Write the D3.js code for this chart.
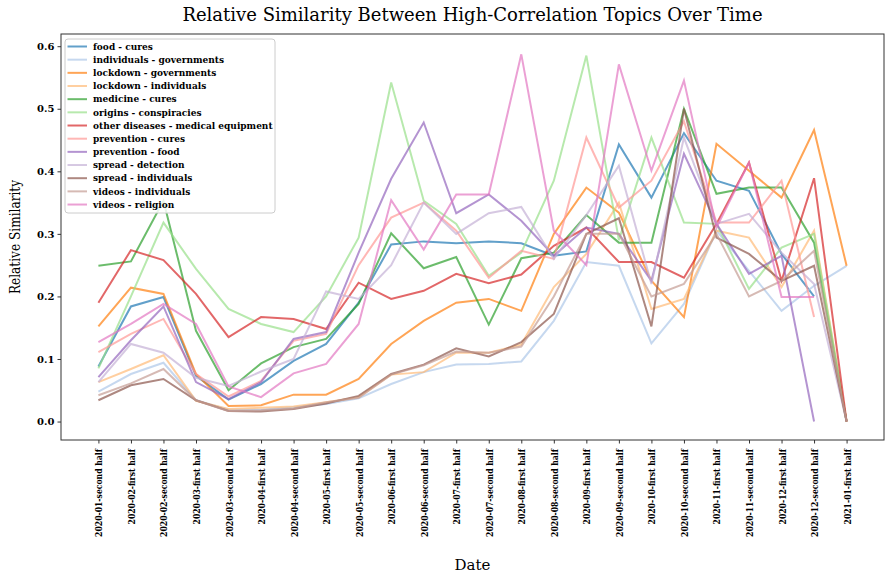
<!DOCTYPE html>
<html>
<head>
<meta charset="utf-8">
<script src="https://cdn.jsdelivr.net/npm/d3@7"></script>
<style>
  html, body { margin: 0; padding: 0; background: #fff; }
  svg { display: block; }
  text { font-family: "DejaVu Serif", serif; }
</style>
</head>
<body>
<svg id="chart" width="887" height="573"></svg>
<script>
// Half-month periods on the x axis
const periods = [
  "2020-01-second half", "2020-02-first half", "2020-02-second half", "2020-03-first half",
  "2020-03-second half", "2020-04-first half", "2020-04-second half", "2020-05-first half",
  "2020-05-second half", "2020-06-first half", "2020-06-second half", "2020-07-first half",
  "2020-07-second half", "2020-08-first half", "2020-08-second half", "2020-09-first half",
  "2020-09-second half", "2020-10-first half", "2020-10-second half", "2020-11-first half",
  "2020-11-second half", "2020-12-first half", "2020-12-second half", "2021-01-first half"
];

const topicPairs = [
  "food - cures", "individuals - governments", "lockdown - governments", "lockdown - individuals",
  "medicine - cures", "origins - conspiracies", "other diseases - medical equipment",
  "prevention - cures", "prevention - food", "spread - detection", "spread - individuals",
  "videos - individuals", "videos - religion"
];

const pairColors = [
  "#1f77b4", "#aec7e8", "#ff7f0e", "#ffbb78", "#2ca02c", "#98df8a", "#d62728",
  "#ff9896", "#9467bd", "#c5b0d5", "#8c564b", "#c49c94", "#e377c2"
];

// Relative similarity per period (null = no value for that period)
const foodCures = [0.088, 0.184, 0.199, 0.073, 0.035, 0.060, 0.097, 0.124, 0.190, 0.283, 0.288, 0.285, 0.288, 0.285, 0.265, 0.272, 0.443, 0.358, 0.461, 0.385, 0.369, 0.268, 0.200, null];
const individualsGovernments = [0.048, 0.076, 0.094, 0.034, 0.019, 0.019, 0.023, 0.028, 0.037, 0.060, 0.079, 0.091, 0.092, 0.096, 0.161, 0.255, 0.249, 0.125, 0.188, 0.305, 0.241, 0.177, 0.217, 0.249];
const lockdownGovernments = [0.152, 0.214, 0.204, 0.076, 0.025, 0.026, 0.043, 0.043, 0.068, 0.124, 0.161, 0.190, 0.196, 0.177, 0.300, 0.374, 0.334, 0.225, 0.167, 0.444, 0.401, 0.358, 0.466, 0.249];
const lockdownIndividuals = [0.063, 0.084, 0.106, 0.033, 0.020, 0.022, 0.024, 0.031, 0.039, 0.075, 0.079, 0.110, 0.110, 0.123, 0.215, 0.268, 0.350, 0.180, 0.196, 0.305, 0.294, 0.215, 0.305, 0.000];
const medicineCures = [0.249, 0.256, 0.353, 0.145, 0.050, 0.093, 0.119, 0.132, 0.188, 0.301, 0.245, 0.263, 0.155, 0.261, 0.270, 0.330, 0.286, 0.286, 0.500, 0.364, 0.374, 0.374, 0.286, 0.000];
const originsConspiracies = [0.085, 0.200, 0.318, 0.244, 0.180, 0.156, 0.143, 0.200, 0.294, 0.542, 0.353, 0.316, 0.233, 0.270, 0.385, 0.585, 0.290, 0.454, 0.318, 0.316, 0.212, 0.278, 0.300, 0.000];
const otherDiseasesEquipment = [0.190, 0.274, 0.258, 0.204, 0.135, 0.167, 0.164, 0.148, 0.222, 0.196, 0.209, 0.236, 0.221, 0.235, 0.281, 0.310, 0.255, 0.255, 0.230, 0.316, 0.414, 0.225, 0.389, 0.000];
const preventionCures = [0.111, 0.140, 0.164, 0.076, 0.040, 0.065, 0.129, 0.140, 0.250, 0.326, 0.350, 0.305, 0.230, 0.273, 0.260, 0.454, 0.342, 0.385, 0.480, 0.318, 0.318, 0.385, 0.167, null];
const preventionFood = [0.071, 0.130, 0.184, 0.063, 0.036, 0.063, 0.132, 0.143, 0.270, 0.388, 0.478, 0.333, 0.363, 0.321, 0.265, 0.310, 0.300, 0.225, 0.428, 0.316, 0.236, 0.265, 0.000, null];
const spreadDetection = [0.063, 0.124, 0.110, 0.070, 0.057, 0.080, 0.100, 0.208, 0.196, 0.250, 0.350, 0.300, 0.333, 0.343, 0.260, 0.330, 0.409, 0.220, 0.454, 0.316, 0.332, 0.270, 0.220, 0.000];
const spreadIndividuals = [0.034, 0.058, 0.068, 0.034, 0.017, 0.016, 0.020, 0.029, 0.041, 0.076, 0.091, 0.117, 0.104, 0.127, 0.172, 0.300, 0.325, 0.152, 0.500, 0.294, 0.268, 0.225, 0.249, 0.000];
const videosIndividuals = [0.042, 0.061, 0.084, 0.034, 0.017, 0.018, 0.021, 0.031, 0.038, 0.075, 0.090, 0.112, 0.110, 0.120, 0.200, 0.300, 0.300, 0.200, 0.220, 0.300, 0.200, 0.225, 0.273, 0.000];
const videosReligion = [0.127, 0.156, 0.188, 0.156, 0.056, 0.039, 0.077, 0.092, 0.156, 0.354, 0.275, 0.363, 0.363, 0.587, 0.305, 0.250, 0.571, 0.401, 0.545, 0.310, 0.414, 0.199, 0.199, null];

const yTicks = [0.0, 0.1, 0.2, 0.3, 0.4, 0.5, 0.6];

const seriesValues = [
  foodCures, individualsGovernments, lockdownGovernments, lockdownIndividuals,
  medicineCures, originsConspiracies, otherDiseasesEquipment, preventionCures,
  preventionFood, spreadDetection, spreadIndividuals, videosIndividuals, videosReligion
];
const series = topicPairs.map((name, k) => ({ name, color: pairColors[k], values: seriesValues[k] }));

const width = 887, height = 573;
const margin = { top: 34, right: 3, bottom: 133, left: 61 };
const svg = d3.select("#chart");

// The figure is vertically squeezed, so upright (rotated) text is compressed along its length
const squeeze = 0.77;

const x = d3.scaleLinear()
  .domain([-1.15, periods.length - 1 + 1.15])
  .range([margin.left, width - margin.right]);
const y = d3.scaleLinear()
  .domain([-0.0295, 0.6195])
  .range([height - margin.bottom, margin.top]);

// Lines
const line = d3.line()
  .defined(d => d != null)
  .x((d, i) => x(i))
  .y(d => y(d));

svg.append("g")
  .selectAll("path")
  .data(series)
  .join("path")
  .attr("fill", "none")
  .attr("stroke", d => d.color)
  .attr("stroke-opacity", 0.7)
  .attr("stroke-width", 2)
  .attr("stroke-linejoin", "miter")
  .attr("d", d => line(d.values));

// Frame
svg.append("rect")
  .attr("x", margin.left).attr("y", margin.top)
  .attr("width", width - margin.left - margin.right)
  .attr("height", height - margin.top - margin.bottom)
  .attr("fill", "none").attr("stroke", "#333").attr("stroke-width", 1);

// Y axis
const yAxis = svg.append("g")
  .attr("transform", `translate(${margin.left},0)`)
  .call(d3.axisLeft(y).tickValues(yTicks).tickFormat(d3.format(".1f")).tickSize(3.5).tickPadding(3));
yAxis.select(".domain").remove();
yAxis.selectAll("line").attr("stroke", "#333");
yAxis.selectAll("text")
  .attr("font-family", "DejaVu Serif").attr("font-weight", "bold")
  .attr("font-size", 10).attr("fill", "#000");

// X axis with upright period labels
const xAxis = svg.append("g")
  .attr("transform", `translate(0,${height - margin.bottom})`)
  .call(d3.axisBottom(x).tickValues(d3.range(periods.length)).tickFormat(i => periods[i]).tickSize(3.5).tickPadding(3));
xAxis.select(".domain").remove();
xAxis.selectAll("line").attr("stroke", "#333");
xAxis.selectAll(".tick text")
  .attr("font-family", "DejaVu Serif").attr("font-weight", "bold")
  .attr("font-size", 10).attr("fill", "#000")
  .attr("text-anchor", "end")
  .attr("y", 0)
  .attr("x", -9 / squeeze)
  .attr("dy", "0.35em")
  .attr("transform", `rotate(-90) scale(${squeeze},1)`);

// Title and axis labels
svg.append("text")
  .attr("x", (margin.left + width - margin.right) / 2)
  .attr("y", 21)
  .attr("text-anchor", "middle")
  .attr("font-size", 18)
  .text("Relative Similarity Between High-Correlation Topics Over Time");

svg.append("text")
  .attr("x", (margin.left + width - margin.right) / 2)
  .attr("y", 570)
  .attr("text-anchor", "middle")
  .attr("font-size", 15)
  .text("Date");

svg.append("text")
  .attr("transform", `translate(20,${(margin.top + height - margin.bottom) / 2}) rotate(-90) scale(0.81,1)`)
  .attr("text-anchor", "middle")
  .attr("font-size", 15)
  .text("Relative Similarity");

// Legend
const legend = svg.append("g").attr("transform", "translate(65,39)");
legend.append("rect")
  .attr("width", 210).attr("height", 174).attr("rx", 3)
  .attr("fill", "#fff").attr("fill-opacity", 0.85)
  .attr("stroke", "#ccc").attr("stroke-width", 1);
const entry = legend.selectAll("g.entry")
  .data(series)
  .join("g")
  .attr("class", "entry")
  .attr("transform", (d, k) => `translate(0,${7.5 + k * 13.17})`);
entry.append("line")
  .attr("x1", 2.5).attr("x2", 22)
  .attr("stroke", d => d.color).attr("stroke-opacity", 0.7).attr("stroke-width", 2);
entry.append("text")
  .attr("x", 28).attr("dy", "0.35em")
  .attr("font-weight", "bold").attr("font-size", 9)
  .text(d => d.name);
</script>
</body>
</html>
